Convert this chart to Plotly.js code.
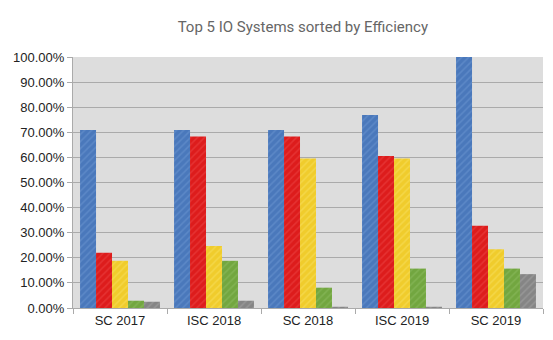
<!DOCTYPE html>
<html><head><meta charset="utf-8">
<script src="https://cdn.plot.ly/plotly-3.0.1.min.js"></script>
<style>html,body{margin:0;padding:0;background:#fff;}</style>
</head><body>
<div id="chart" style="width:553px;height:340px;"></div>
<script>
var categories = ["SC 2017", "ISC 2018", "SC 2018", "ISC 2019", "SC 2019"];
var rank1 = [0.709, 0.709, 0.709, 0.769, 1.000];
var rank2 = [0.220, 0.683, 0.683, 0.606, 0.328];
var rank3 = [0.188, 0.247, 0.596, 0.596, 0.234];
var rank4 = [0.029, 0.188, 0.081, 0.157, 0.157];
var rank5 = [0.025, 0.029, 0.005, 0.005, 0.135];
var seriesNames = ["Rank 1", "Rank 2", "Rank 3", "Rank 4", "Rank 5"];
var colors = ["#4a78bb", "#dd1c1c", "#f0cc2c", "#72a640", "#858585"];
var lighter = ["#7ea6dc", "#f25a5a", "#fbe97a", "#9cc872", "#b5b5b5"];
var series = [rank1, rank2, rank3, rank4, rank5];

var traces = series.map(function(vals, i){
  return {
    type: "bar", x: categories, y: vals, name: seriesNames[i],
    marker: {color: colors[i], line: {width: 0},
      pattern: {shape: "/", bgcolor: colors[i], fgcolor: lighter[i], fgopacity: 0.35, size: 5, solidity: 0.3}},
    hoverinfo: "skip"
  };
});

var layout = {
  width: 553, height: 340,
  margin: {l: 73, r: 10, t: 57, b: 32},
  paper_bgcolor: "#ffffff",
  plot_bgcolor: "#dddddd",
  showlegend: false,
  barmode: "group",
  bargap: 0.15, bargroupgap: 0,
  font: {family: "Liberation Sans, Arial, sans-serif", color: "#333333", size: 13},
  title: {text: "Top 5 IO Systems sorted by Efficiency",
          font: {family: "Roboto, Liberation Sans, sans-serif", size: 15, color: "#666666"},
          x: 0.489, xref: "paper", y: 0.921, yref: "container", xanchor: "center", yanchor: "middle"},
  xaxis: {type: "category", tickson: "boundaries", ticks: "outside", ticklen: 5,
          tickcolor: "#aaaaaa", showline: true, linecolor: "#aaaaaa", linewidth: 1,
          showgrid: false, tickfont: {size: 13, color: "#222222"}, fixedrange: true},
  yaxis: {range: [0, 1], dtick: 0.1, tickformat: ".2%", ticks: "outside", ticklen: 5,
          tickcolor: "#aaaaaa", showline: true, linecolor: "#aaaaaa", linewidth: 1,
          gridcolor: "#aaaaaa", gridwidth: 1, zeroline: false,
          tickfont: {size: 13, color: "#222222"}, fixedrange: true}
};
Plotly.newPlot("chart", traces, layout, {displayModeBar: false, staticPlot: true});
</script>
</body></html>
